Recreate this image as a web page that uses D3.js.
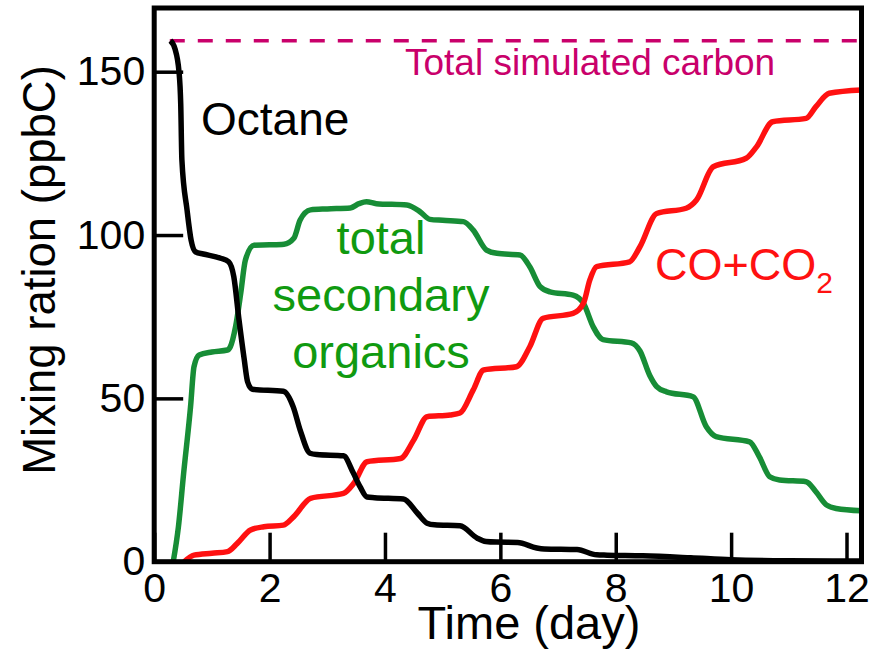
<!DOCTYPE html>
<html>
<head>
<meta charset="utf-8">
<script src="https://cdn.jsdelivr.net/npm/d3@7"></script>
<style>
  html, body { margin: 0; padding: 0; background: #fff; }
  svg { display: block; font-family: "Liberation Sans", Arial, Helvetica, sans-serif; }
</style>
</head>
<body>
<svg id="chart" width="882" height="650"></svg>
<script>
// Time axis (day) and mixing-ratio values (ppbC) for each simulated species
const octaneDays = [0.28, 0.36, 0.43, 0.46, 0.48, 0.57, 0.64, 0.72, 0.85, 1.15, 1.29, 1.38, 1.47, 1.56, 1.62, 1.70,
  2.24, 2.41, 2.53, 2.70, 2.82, 3.28, 3.45, 3.57, 3.69, 3.82, 4.32, 4.56, 4.73, 4.86, 5.30, 5.60, 5.75, 5.94,
  6.30, 6.63, 6.76, 7.33, 7.67, 7.85, 8.47, 9.30, 10.0, 11.0, 12.26];
const octaneValues = [159.5, 157, 150, 140, 123, 107.6, 98.4, 94.8, 94.2, 92.9, 91.8, 87.2, 74, 62, 55, 52.8,
  52.2, 47.4, 40.3, 33.2, 32.8, 32.4, 27.2, 22.9, 19.8, 19.6, 19.2, 14.9, 11.8, 11.3, 11.0, 7.2, 6.2, 6.0,
  5.9, 4.2, 3.9, 3.7, 2.1, 2.0, 1.8, 1.2, 0.6, 0.3, 0.2];

const organicsDays = [0.33, 0.42, 0.51, 0.63, 0.69, 0.78, 1.00, 1.27, 1.32, 1.41, 1.50, 1.58, 1.73, 2.00, 2.25,
  2.42, 2.53, 2.71, 3.00, 3.40, 3.55, 3.68, 3.85, 4.38, 4.61, 4.78, 5.00, 5.36, 5.53, 5.76, 5.94, 6.34, 6.51, 6.69,
  6.86, 7.26, 7.44, 7.61, 7.78, 8.27, 8.42, 8.59, 8.71, 8.88, 9.34, 9.57, 9.74, 10.32, 10.49, 10.67, 10.84,
  11.30, 11.47, 11.65, 11.82, 12.26];
const organicsValues = [0, 10.7, 27, 47.4, 59.7, 63.3, 64.2, 64.8, 65.8, 71.9, 82.2, 92.3, 96.9, 97.0, 97.2,
  99, 104.6, 107.7, 108, 108.3, 109.6, 110.2, 109.6, 109.2, 107.1, 104.8, 104.5, 104.1, 101.5, 95.4, 94.4, 93.9, 90.3, 84.2,
  82.6, 81.6, 79.1, 71.9, 68, 67, 64.5, 57, 53.6, 52, 50.5, 41.3, 38.3, 36.7, 32.1, 26, 25,
  24.5, 21.4, 17.4, 16.3, 15.6];

const coxDays = [0.52, 0.69, 1.00, 1.27, 1.44, 1.67, 1.90, 2.24, 2.42, 2.71, 3.28, 3.46, 3.69, 4.27, 4.50, 4.73,
  5.13, 5.30, 5.53, 5.71, 6.28, 6.51, 6.74, 7.26, 7.44, 7.55, 7.67, 8.24, 8.42, 8.71, 9.22, 9.40, 9.69,
  10.26, 10.44, 10.72, 11.30, 11.47, 11.70, 12.26];
const coxValues = [0, 2, 2.6, 3.1, 5.6, 9.7, 10.7, 11.2, 13.8, 19.4, 20.9, 24, 30.6, 31.6, 37.3, 44.4,
  44.9, 45.5, 52.6, 58.7, 59.7, 65.8, 74.5, 76, 79.1, 86.2, 90.3, 91.8, 96.4, 106.6, 108.2, 110.7, 120.9,
  123.5, 127, 134.7, 135.7, 139.3, 143.4, 144.4];

const totalCarbon = 159.5;
const totalCarbonStart = 0.27;

const xTicks = [0, 2, 4, 6, 8, 10, 12];
const yTicks = [0, 50, 100, 150];

const svg = d3.select("#chart");
const plotLeft = 154.2, plotRight = 861.5, plotTop = 8, plotBottom = 561.7;

const x = d3.scaleLinear().domain([0, 12.26]).range([plotLeft, plotRight]);
const y = d3.scaleLinear().domain([0, 169.5]).range([plotBottom, plotTop]);

svg.append("defs").append("clipPath").attr("id", "plotClip")
  .append("rect").attr("x", plotLeft).attr("y", plotTop)
  .attr("width", plotRight - plotLeft).attr("height", plotBottom - plotTop);

const plot = svg.append("g").attr("clip-path", "url(#plotClip)");

// total simulated carbon (dashed)
plot.append("line")
  .attr("x1", x(totalCarbonStart)).attr("x2", plotRight)
  .attr("y1", y(totalCarbon)).attr("y2", y(totalCarbon))
  .attr("stroke", "#c9006b").attr("stroke-width", 3.5)
  .attr("stroke-dasharray", "15,13");

const line = d3.line().x(d => x(d[0])).y(d => y(d[1])).curve(d3.curveMonotoneX);

const series = [
  { days: organicsDays, values: organicsValues, color: "#178d36" },
  { days: coxDays, values: coxValues, color: "#ff1111" },
  { days: octaneDays, values: octaneValues, color: "#000000" }
];
series.forEach(s => {
  plot.append("path")
    .datum(s.days.map((d, i) => [d, s.values[i]]))
    .attr("d", line)
    .attr("fill", "none")
    .attr("stroke", s.color)
    .attr("stroke-width", 5.5)
    .attr("stroke-linejoin", "round");
});

// axes with inward ticks
const xAxis = svg.append("g").attr("transform", `translate(0,${plotBottom})`)
  .call(d3.axisBottom(x).tickValues(xTicks).tickSize(-29).tickPadding(11).tickFormat(d3.format("d")));
const yAxis = svg.append("g").attr("transform", `translate(${plotLeft},0)`)
  .call(d3.axisLeft(y).tickValues(yTicks).tickSize(-29).tickPadding(9).tickFormat(d3.format("d")));
[xAxis, yAxis].forEach(a => {
  a.select(".domain").remove();
  a.selectAll(".tick line").attr("stroke", "#000").attr("stroke-width", 3.5);
  a.selectAll(".tick text").attr("fill", "#000").style("font-size", "41px")
    .style("font-family", "'Liberation Sans', Arial, sans-serif");
});

// frame
svg.append("rect")
  .attr("x", plotLeft).attr("y", plotTop)
  .attr("width", plotRight - plotLeft).attr("height", plotBottom - plotTop)
  .attr("fill", "none").attr("stroke", "#000").attr("stroke-width", 5);

// axis titles
svg.append("text").attr("x", 529).attr("y", 639).attr("text-anchor", "middle")
  .style("font-size", "47px").attr("fill", "#000").text("Time (day)");
svg.append("text").attr("transform", "translate(55,270) rotate(-90)").attr("text-anchor", "middle")
  .style("font-size", "45.5px").attr("fill", "#000").text("Mixing ration (ppbC)");

// series labels
svg.append("text").attr("x", 405).attr("y", 75)
  .style("font-size", "37px").attr("fill", "#c9006b").text("Total simulated carbon");
svg.append("text").attr("x", 201).attr("y", 135)
  .style("font-size", "46px").attr("fill", "#000").text("Octane");
const green = svg.append("text").attr("text-anchor", "middle")
  .style("font-size", "47px").attr("fill", "#109a10");
["total", "secondary", "organics"].forEach((t, i) => {
  green.append("tspan").attr("x", 381).attr("y", 254 + i * 57).text(t);
});
const cox = svg.append("text").attr("x", 655).attr("y", 280)
  .style("font-size", "45px").attr("fill", "#ff1111");
cox.append("tspan").text("CO+CO");
cox.append("tspan").attr("dy", 13).style("font-size", "30px").text("2");
</script>
</body>
</html>
